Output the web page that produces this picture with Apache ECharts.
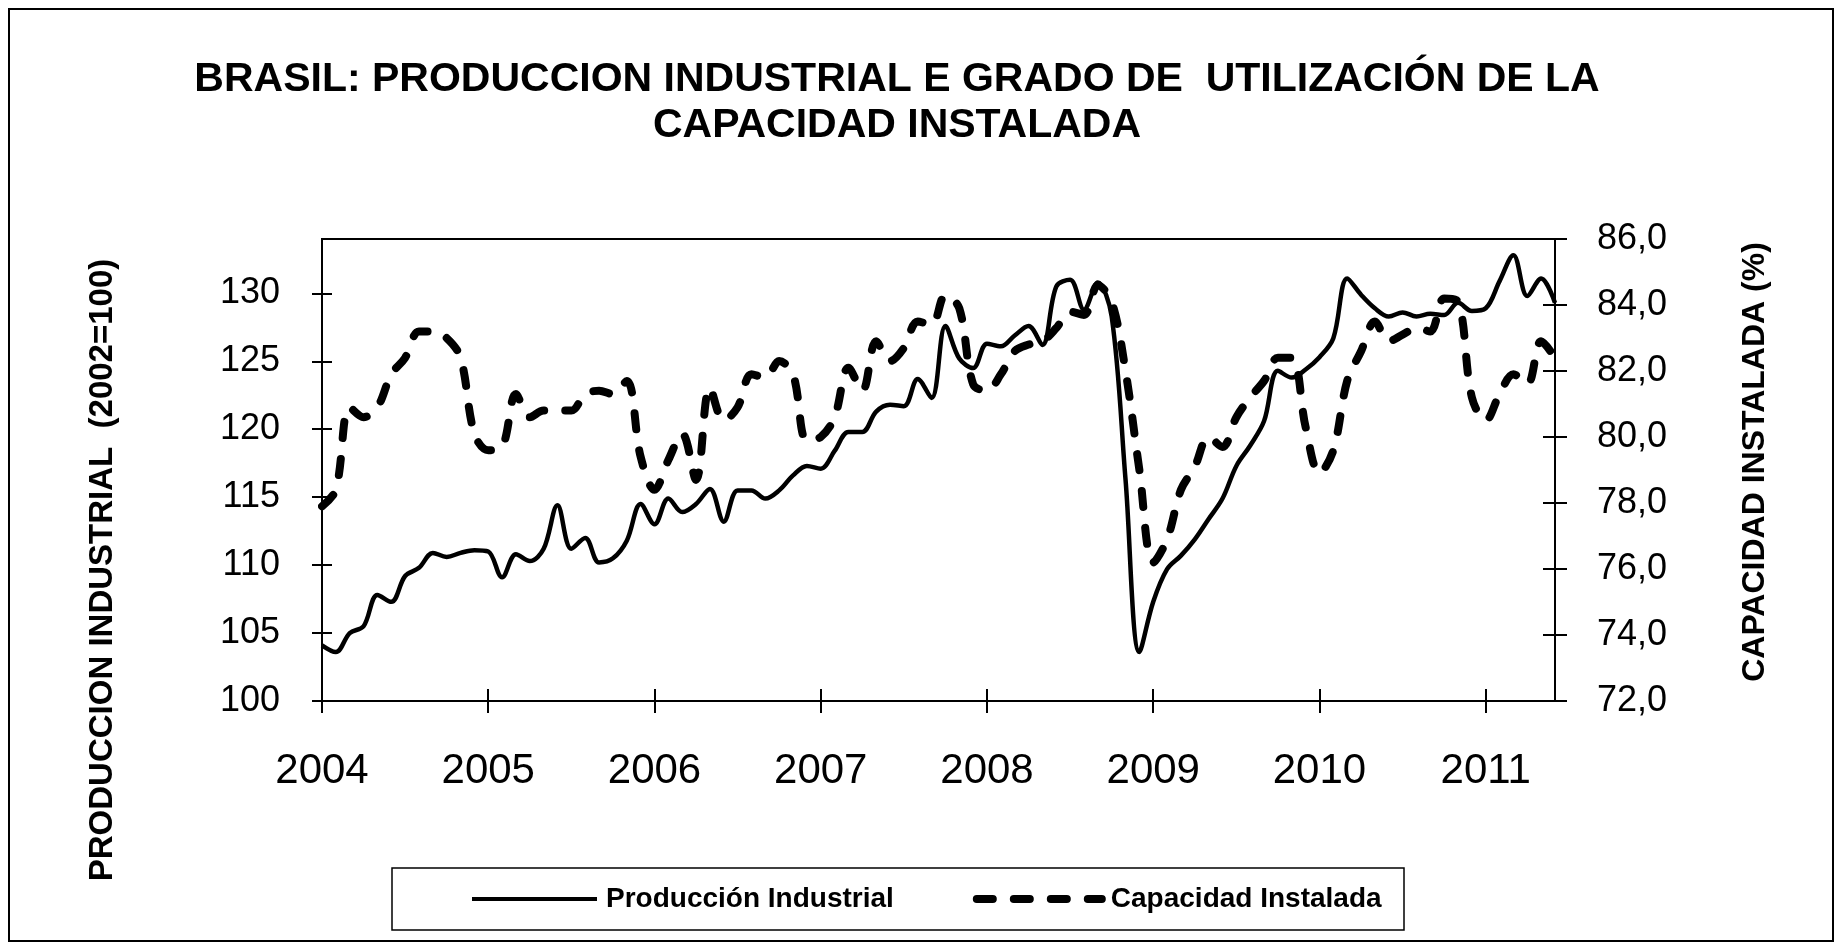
<!DOCTYPE html>
<html lang="es">
<head>
<meta charset="UTF-8">
<title>Brasil: producción industrial y capacidad instalada</title>
<script src="https://cdn.jsdelivr.net/npm/echarts@6.0.0/dist/echarts.min.js"></script>
<style>
  html, body { margin: 0; padding: 0; background: #fff; }
  #chart { width: 1845px; height: 945px; }
</style>
</head>
<body>
<div id="chart"></div>
<script>
// etiquetas del eje X (enero de cada año)
var years = ['2004', '2005', '2006', '2007', '2008', '2009', '2010', '2011'];

// Producción industrial (2002=100), mensual ene-2004 .. jun-2011
var produccion = [
  104.1, 103.6, 105.0, 105.5, 107.8, 107.3, 109.2, 109.8, 110.9, 110.6,
  110.9, 111.1, 111.0, 109.1, 110.8, 110.3, 111.2, 114.4, 111.2, 112.0,
  110.2, 110.5, 111.8, 114.5, 113.0, 114.9, 113.9, 114.5, 115.6, 113.2,
  115.5, 115.5, 114.9, 115.5, 116.6, 117.3, 117.1, 118.4, 119.8, 119.8,
  121.3, 121.8, 121.7, 123.7, 122.3, 127.6, 125.2, 124.5, 126.3, 126.1,
  126.9, 127.6, 126.2, 130.5, 131.0, 128.8, 130.8, 128.3, 116.3, 103.6,
  107.3, 109.7, 110.7, 111.9, 113.4, 114.9, 117.3, 118.8, 120.6, 124.3,
  123.8, 124.4, 125.3, 126.7, 131.1, 129.9, 128.9, 128.3, 128.6, 128.3,
  128.5, 128.4, 129.3, 128.7, 128.9, 130.9, 132.8, 129.8, 131.1, 129.3
];

// Utilización de la capacidad instalada (%)
var capacidad = [
  77.9, 78.4, 80.9, 80.6, 80.9, 81.9, 82.4, 83.2, 83.2, 83.0,
  82.4, 80.1, 79.6, 79.7, 81.3, 80.6, 80.8, 80.8, 80.8, 81.3,
  81.4, 81.3, 81.7, 79.4, 78.4, 79.3, 80.1, 78.7, 81.5, 80.5,
  80.9, 81.9, 81.8, 82.3, 81.9, 79.9, 80.0, 80.6, 82.1, 81.4,
  82.9, 82.3, 82.7, 83.5, 83.4, 84.3, 83.9, 81.6, 81.4, 81.9,
  82.6, 82.8, 82.9, 83.3, 83.8, 83.7, 84.6, 84.1, 82.0, 79.0,
  76.2, 76.9, 78.4, 79.1, 80.0, 79.7, 80.6, 81.2, 81.7, 82.4,
  82.4, 80.3, 78.9, 79.6, 81.7, 82.6, 83.5, 82.9, 83.1, 83.3,
  83.2, 84.2, 84.1, 81.2, 80.5, 81.3, 81.9, 81.6, 82.9, 82.4
];

var leftTicks = [100, 105, 110, 115, 120, 125, 130];
var rightTicks = [72, 74, 76, 78, 80, 82, 84, 86];

// categorías mensuales
var months = [];
years.forEach(function (y) {
  for (var m = 1; m <= 12; m++) months.push(y + '-' + (m < 10 ? '0' + m : m));
});
months = months.slice(0, produccion.length);

var FONT = "'Liberation Sans', Arial, sans-serif";
var isJan = function (i) { return i % 12 === 0; };
var black = { color: '#000', width: 2 };

var chart = echarts.init(document.getElementById('chart'));

var option = {
  animation: false,
  backgroundColor: '#fff',
  title: {
    text: 'BRASIL: PRODUCCION INDUSTRIAL E GRADO DE  UTILIZACIÓN DE LA\nCAPACIDAD INSTALADA',
    left: 892,
    top: 52,
    textAlign: 'center',
    textStyle: { fontFamily: FONT, fontSize: 41, fontWeight: 'bold', color: '#000', lineHeight: 46 }
  },
  grid: {
    left: 322, right: 290, top: 239, bottom: 244,
    show: true, borderColor: '#000', borderWidth: 2,
    outerBoundsMode: 'none'
  },
  legend: {
    left: 465,
    top: 880,
    itemWidth: 125,
    itemHeight: 14,
    itemGap: 79,
    itemStyle: { opacity: 0 },   // sin símbolo en la leyenda, sólo la línea
    textStyle: { fontFamily: FONT, fontSize: 28, fontWeight: 'bold', color: '#000', padding: [0, 0, 0, 4] },
    data: [
      { name: 'Producción Industrial', lineStyle: { width: 4, color: '#000' } },
      { name: 'Capacidad Instalada', lineStyle: { width: 8, color: '#000', type: [16, 21], cap: 'round' } }
    ]
  },
  xAxis: [
    {
      type: 'category', data: months, boundaryGap: false,
      axisLine: { onZero: false, lineStyle: black },
      axisTick: { interval: isJan, length: 12, lineStyle: black },
      axisLabel: {
        interval: isJan, formatter: function (v) { return v.slice(0, 4); },
        color: '#000', fontFamily: FONT, fontSize: 42, margin: 49
      },
      splitLine: { show: false }
    },
    {
      // marcas hacia adentro (las del original cruzan el eje)
      type: 'category', data: months, boundaryGap: false, position: 'bottom',
      axisLine: { show: false, onZero: false },
      axisTick: { interval: isJan, inside: true, length: 12, lineStyle: black },
      axisLabel: { show: false },
      splitLine: { show: false }
    }
  ],
  yAxis: [
    {
      type: 'value', position: 'left', min: 100, max: 134,
      axisLine: { show: true, lineStyle: black },
      axisTick: { show: true, length: 10, customValues: leftTicks, lineStyle: black },
      axisLabel: { customValues: leftTicks, color: '#000', fontFamily: FONT, fontSize: 36, margin: 42 },
      splitLine: { show: false }
    },
    {
      type: 'value', position: 'right', min: 72, max: 86, interval: 2,
      axisLine: { show: true, lineStyle: black },
      axisTick: { show: true, length: 12, customValues: rightTicks, lineStyle: black },
      axisLabel: {
        customValues: rightTicks,
        formatter: function (v) { return v.toFixed(1).replace('.', ','); },
        color: '#000', fontFamily: FONT, fontSize: 36, margin: 42
      },
      splitLine: { show: false }
    },
    {
      type: 'value', position: 'left', min: 100, max: 134,
      axisLine: { show: false },
      axisTick: { show: true, inside: true, length: 10, customValues: leftTicks, lineStyle: black },
      axisLabel: { show: false },
      splitLine: { show: false }
    },
    {
      type: 'value', position: 'right', min: 72, max: 86,
      axisLine: { show: false },
      axisTick: { show: true, inside: true, length: 12, customValues: rightTicks, lineStyle: black },
      axisLabel: { show: false },
      splitLine: { show: false }
    }
  ],
  graphic: [
    {
      type: 'rect', silent: true,
      shape: { x: 9, y: 9, width: 1824, height: 932 },
      style: { fill: 'none', stroke: '#000', lineWidth: 2 }
    },
    {
      type: 'rect', silent: true,
      shape: { x: 392, y: 868, width: 1012, height: 62 },
      style: { fill: 'none', stroke: '#000', lineWidth: 1.5 }
    },
    {
      type: 'text', x: 103, y: 570, rotation: Math.PI / 2, silent: true,
      style: {
        text: 'PRODUCCION INDUSTRIAL  (2002=100)', fill: '#000',
        font: 'bold 33px ' + FONT, align: 'center', verticalAlign: 'middle'
      }
    },
    {
      type: 'text', x: 1755, y: 462, rotation: Math.PI / 2, silent: true,
      style: {
        text: 'CAPACIDAD INSTALADA (%)', fill: '#000',
        font: 'bold 32px ' + FONT, align: 'center', verticalAlign: 'middle'
      }
    }
  ],
  series: [
    {
      name: 'Producción Industrial', type: 'line', xAxisIndex: 0, yAxisIndex: 0,
      data: produccion, symbol: 'none', smooth: 0.35, z: 3,
      itemStyle: { color: '#000' },
      lineStyle: { color: '#000', width: 4.5 }
    },
    {
      name: 'Capacidad Instalada', type: 'line', xAxisIndex: 0, yAxisIndex: 1,
      data: capacidad, symbol: 'none', smooth: 0.35, z: 2,
      itemStyle: { color: '#000' },
      lineStyle: { color: '#000', width: 8, type: [16, 21], cap: 'round' }
    }
  ]
};

chart.setOption(option);
</script>
</body>
</html>
